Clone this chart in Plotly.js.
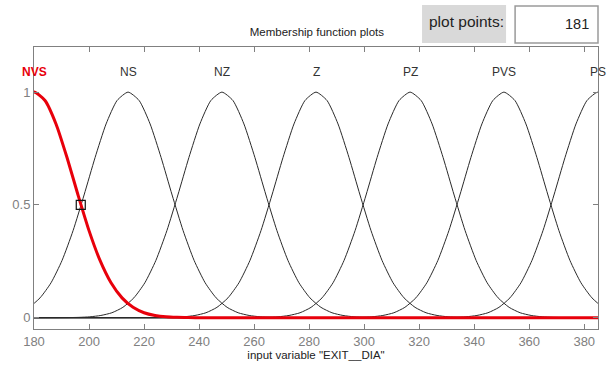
<!DOCTYPE html>
<html>
<head>
<meta charset="utf-8">
<script src="https://cdn.plot.ly/plotly-3.0.1.min.js"></script>
<style>
  html, body { margin: 0; padding: 0; background: #ffffff; }
  #chart { width: 607px; height: 372px; }
</style>
</head>
<body>
<div id="chart"></div>
<script>
// Membership functions of the input variable "EXIT__DIA" (range 180-385)
const mfNames   = ["NVS", "NS", "NZ", "Z", "PZ", "PVS", "PS"];
const mfCenters = [180, 214.2, 248.3, 282.5, 316.7, 350.8, 385];

// Shared bell-shaped membership profile: degree of membership at a given
// distance from a function's centre (same shape for every function)
const profileOffsets = [0, 4, 8, 12, 16, 20, 24, 28, 32, 36, 40, 44, 48, 52, 56, 60, 210];
const profileDegrees = [1, 0.963, 0.859, 0.710, 0.544, 0.386, 0.254, 0.155, 0.088,
                        0.046, 0.022, 0.010, 0.004, 0.0016, 0.0006, 0.0002, 0];

// Selected function handle point
const handleX = [197];
const handleY = [0.5];

const xTicks = [180, 200, 220, 240, 260, 280, 300, 320, 340, 360, 380];
const yTicks = [0, 0.5, 1];
const plotPoints = "181";

const FONT = "'Liberation Sans Narrow', 'Arial Narrow', 'Liberation Sans', Arial, sans-serif";

// Build one curve from the shared profile, mirrored around its centre
function curveFor(center) {
  const xs = [], ys = [];
  for (let i = profileOffsets.length - 1; i > 0; i--) {
    xs.push(center - profileOffsets[i]); ys.push(profileDegrees[i]);
  }
  for (let i = 0; i < profileOffsets.length; i++) {
    xs.push(center + profileOffsets[i]); ys.push(profileDegrees[i]);
  }
  return { xs, ys };
}

const traces = [];
// black curves first, the selected (red) one on top
mfNames.forEach((name, i) => {
  if (i === 0) return;
  const c = curveFor(mfCenters[i]);
  traces.push({
    type: "scatter", mode: "lines", name: name,
    x: c.xs, y: c.ys,
    line: { color: "#2a2a2a", width: 1, shape: "spline", smoothing: 0.6 },
    hoverinfo: "skip"
  });
});
{
  const c = curveFor(mfCenters[0]);
  traces.push({
    type: "scatter", mode: "lines", name: mfNames[0],
    x: c.xs, y: c.ys,
    line: { color: "#e8000b", width: 3, shape: "spline", smoothing: 0.6 },
    hoverinfo: "skip"
  });
}
traces.push({
  type: "scatter", mode: "markers", name: "handle",
  x: handleX, y: handleY,
  marker: { symbol: "square-open", size: 9, color: "#111111", line: { width: 1.2 } },
  hoverinfo: "skip"
});

// Function names above each peak
const annotations = mfNames.map((name, i) => ({
  x: mfCenters[i], y: 1.09, xref: "x", yref: "y",
  text: name, showarrow: false,
  xanchor: "center", yanchor: "middle",
  font: i === 0
    ? { family: FONT, size: 12, color: "#e8000b", weight: "bold" }
    : { family: FONT, size: 12, color: "#333333" }
}));

// "plot points" panel
annotations.push({
  x: 0.766, y: 1.089, xref: "paper", yref: "paper",
  text: "plot points:", showarrow: false, xanchor: "center", yanchor: "middle",
  font: { family: FONT, size: 15.5, color: "#222222" }
});
annotations.push({
  x: 0.988, y: 1.08, xref: "paper", yref: "paper",
  text: plotPoints, showarrow: false, xanchor: "right", yanchor: "middle",
  font: { family: FONT, size: 14.5, color: "#222222" }
});

const shapes = [
  { type: "rect", xref: "paper", yref: "paper", x0: 0.688, x1: 0.837, y0: 1.014, y1: 1.149,
    fillcolor: "#d9d9d9", line: { width: 0 }, layer: "below" },
  { type: "rect", xref: "paper", yref: "paper", x0: 0.853, x1: 1.0, y0: 1.014, y1: 1.145,
    fillcolor: "#ffffff", line: { color: "#9a9a9a", width: 1.5 } }
];

const layout = {
  width: 607, height: 372,
  margin: { l: 34, r: 9, t: 47, b: 43 },
  paper_bgcolor: "#ffffff", plot_bgcolor: "#ffffff",
  showlegend: false,
  title: {
    text: "Membership function plots",
    x: 0.522, xanchor: "center", y: 0.914, yanchor: "middle",
    font: { family: FONT, size: 11.5, color: "#222222" }
  },
  xaxis: {
    range: [180, 385], tickvals: xTicks, ticktext: xTicks.map(String),
    ticks: "inside", ticklen: 5, tickcolor: "#808080", tickwidth: 1,
    showline: true, linecolor: "#808080", linewidth: 1, mirror: "ticks",
    showgrid: false, zeroline: false,
    tickfont: { family: FONT, size: 13, color: "#808080" },
    title: { text: 'input variable "EXIT__DIA"', standoff: 1,
             font: { family: FONT, size: 11.5, color: "#222222" } }
  },
  yaxis: {
    range: [-0.05, 1.2], tickvals: yTicks, ticktext: ["0", "0.5", "1"],
    ticks: "inside", ticklen: 5, tickcolor: "#808080", tickwidth: 1,
    showline: true, linecolor: "#808080", linewidth: 1, mirror: "ticks",
    showgrid: false, zeroline: false,
    tickfont: { family: FONT, size: 13, color: "#808080" }
  },
  annotations: annotations,
  shapes: shapes
};

Plotly.newPlot("chart", traces, layout, { staticPlot: true, displayModeBar: false });
</script>
</body>
</html>
